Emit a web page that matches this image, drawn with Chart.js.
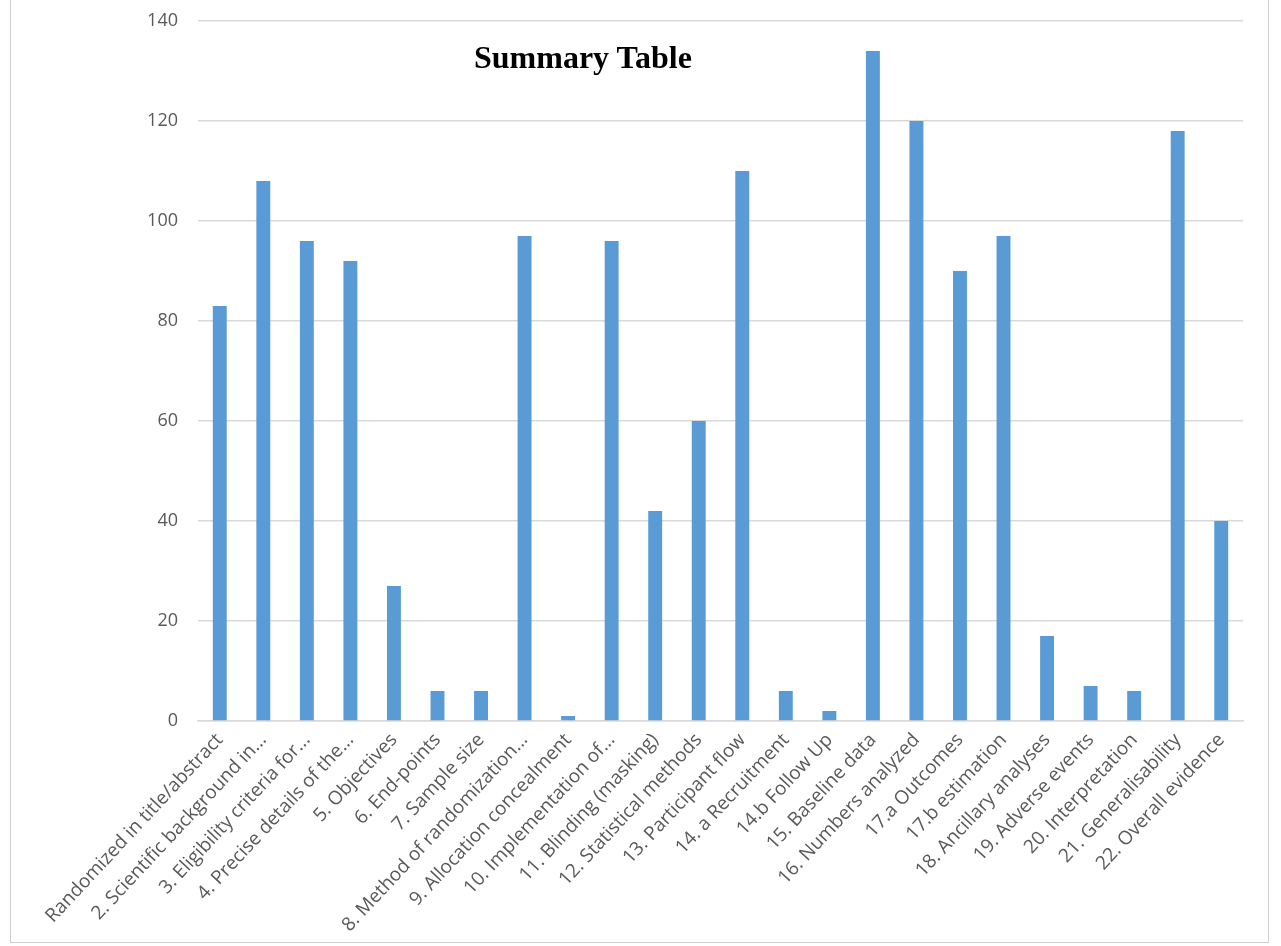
<!DOCTYPE html>
<html lang="en">
<head>
    <meta charset="UTF-8">
    <title>Summary Table</title>
    <script src="https://cdn.jsdelivr.net/npm/chart.js"></script>
    <style>
        html, body {
            margin: 0;
            padding: 0;
            background: #ffffff;
        }
        .wrap {
            position: relative;
            width: 1281px;
            height: 946px;
            overflow: hidden;
        }
        .frame {
            position: absolute;
            left: 10px;
            top: -2px;
            width: 1257px;
            height: 944px;
            border: 1px solid #d0d0d0;
            border-top: none;
        }
        .title {
            position: absolute;
            left: 474px;
            top: 39px;
            font-family: 'Liberation Serif', 'Times New Roman', serif;
            font-weight: bold;
            font-size: 32px;
            line-height: 36px;
            color: #000;
        }
        canvas {
            position: absolute;
            left: 0;
            top: 0;
        }
    </style>
</head>
<body>
    <div class="wrap">
        <div class="frame"></div>
        <canvas id="summaryChart" width="1281" height="946"></canvas>
        <div class="title">Summary Table</div>
    </div>

    <script>
        // checklist items (first label is cut off in the source)
        const categories = [
            'Randomized in title/abstract',
            '2. Scientific background in...',
            '3. Eligibility criteria for...',
            '4. Precise details of the...',
            '5. Objectives',
            '6. End-points',
            '7. Sample size',
            '8. Method of randomization...',
            '9. Allocation concealment',
            '10. Implementation of...',
            '11. Blinding (masking)',
            '12. Statistical methods',
            '13. Participant flow',
            '14. a Recruitment',
            '14.b Follow Up',
            '15. Baseline data',
            '16. Numbers analyzed',
            '17.a Outcomes',
            '17.b estimation',
            '18. Ancillary analyses',
            '19. Adverse events',
            '20. Interpretation',
            '21. Generalisability',
            '22. Overall evidence'
        ];
        const counts = [83, 108, 96, 92, 27, 6, 6, 97, 1, 96, 42, 60, 110, 6, 2, 134, 120, 90, 97, 17, 7, 6, 118, 40];
        const yTicks = [0, 20, 40, 60, 80, 100, 120, 140];

        const ctx = document.getElementById('summaryChart').getContext('2d');
        new Chart(ctx, {
            type: 'bar',
            data: {
                labels: categories,
                datasets: [{
                    label: 'Count',
                    data: counts,
                    backgroundColor: '#5b9bd5',
                    borderWidth: 0,
                    barPercentage: 0.32,
                    categoryPercentage: 1.0
                }]
            },
            options: {
                responsive: false,
                animation: false,
                devicePixelRatio: 1,
                layout: {
                    padding: { left: 0, right: 38, top: 21, bottom: 0 }
                },
                plugins: {
                    legend: { display: false },
                    tooltip: { enabled: false }
                },
                scales: {
                    x: {
                        grid: { display: false, drawTicks: false },
                        border: { display: true, color: '#d9d9d9', width: 1.5 },
                        ticks: {
                            autoSkip: false,
                            maxRotation: 47,
                            minRotation: 47,
                            padding: 8,
                            color: '#595959',
                            font: { family: 'Open Sans', size: 19 }
                        },
                        afterFit: function (scale) {
                            scale.height = 225;
                            scale.paddingLeft = 0;
                            scale.paddingRight = 0;
                        }
                    },
                    y: {
                        min: 0,
                        max: 140,
                        afterBuildTicks: function (scale) {
                            scale.ticks = yTicks.map(v => ({ value: v }));
                        },
                        grid: { color: '#d9d9d9', lineWidth: 1.5, drawTicks: false },
                        border: { display: false },
                        ticks: {
                            padding: 20,
                            color: '#595959',
                            font: { family: 'Open Sans', size: 18 }
                        },
                        afterFit: function (scale) {
                            scale.width = 198;
                            scale.paddingTop = 0;
                            scale.paddingBottom = 0;
                        }
                    }
                }
            }
        });
    </script>
</body>
</html>
